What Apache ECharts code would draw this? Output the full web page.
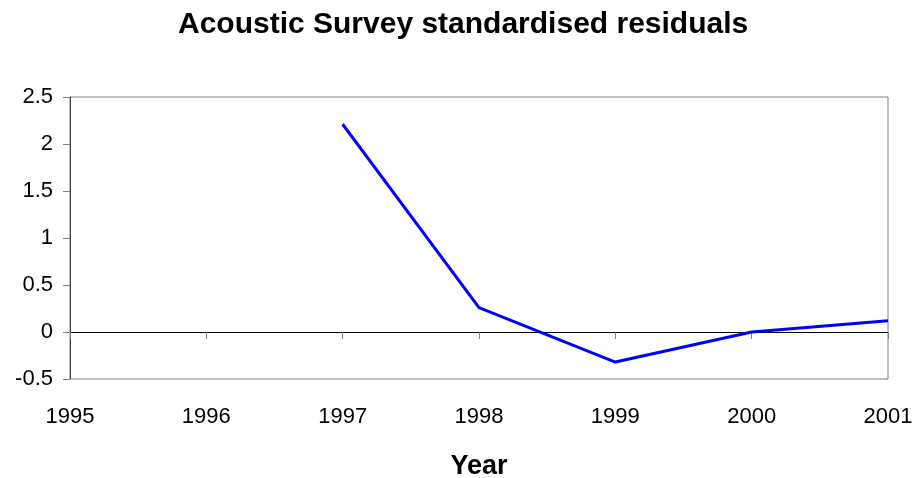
<!DOCTYPE html>
<html>
<head>
<meta charset="utf-8">
<script src="https://cdn.jsdelivr.net/npm/echarts@6/dist/echarts.min.js"></script>
<style>html,body{margin:0;padding:0;background:#fff;}#c{width:915px;height:478px;}</style>
</head>
<body>
<div id="c"></div>
<script>
var years = [1997, 1998, 1999, 2000, 2001];
var residuals = [2.21, 0.26, -0.32, 0.0, 0.12];
var chartTitle = 'Acoustic Survey standardised residuals';
var xName = 'Year';

var chart = echarts.init(document.getElementById('c'));
var font = '"Liberation Sans", Arial, sans-serif';
chart.setOption({
  animation: false,
  backgroundColor: '#fff',
  title: {
    text: chartTitle, left: 173, top: 5,
    textStyle: { fontFamily: font, fontSize: 30, fontWeight: 'bold', color: '#000' }
  },
  grid: { left: 70, right: 27, top: 97, bottom: 99, show: true, borderColor: '#808080', borderWidth: 1,
    containLabel: false, outerBoundsMode: 'none' },
  xAxis: [{
    type: 'value', min: 1995, max: 2001, interval: 1, position: 'bottom',
    axisLine: { show: true, onZero: true, lineStyle: { color: '#000', width: 1 } },
    axisTick: { show: true, length: 7, lineStyle: { color: '#808080', width: 1 } },
    axisLabel: { show: false }, splitLine: { show: false }
  }, {
    type: 'value', min: 1995, max: 2001, interval: 1, position: 'bottom',
    axisLine: { show: false, onZero: false }, axisTick: { show: false },
    axisLabel: { show: true, margin: 27, fontFamily: font, fontSize: 22, color: '#000',
      formatter: function (v) { return String(v); } },
    splitLine: { show: false },
    name: xName, nameLocation: 'middle', nameGap: 74,
    nameTextStyle: { fontFamily: font, fontSize: 27, fontWeight: 'bold', color: '#000' }
  }],
  yAxis: {
    type: 'value', min: -0.5, max: 2.5, interval: 0.5,
    axisLine: { show: true, lineStyle: { color: '#404040', width: 1 } },
    axisTick: { show: true, length: 7, lineStyle: { color: '#808080' } },
    axisLabel: { margin: 17, fontFamily: font, fontSize: 22, color: '#000' },
    splitLine: { show: false }
  },
  series: [{
    type: 'line', xAxisIndex: 0,
    data: years.map(function (y, i) { return [y, residuals[i]]; }),
    showSymbol: false, symbol: 'none',
    lineStyle: { color: '#0000FF', width: 3 }
  }]
});
</script>
</body>
</html>
